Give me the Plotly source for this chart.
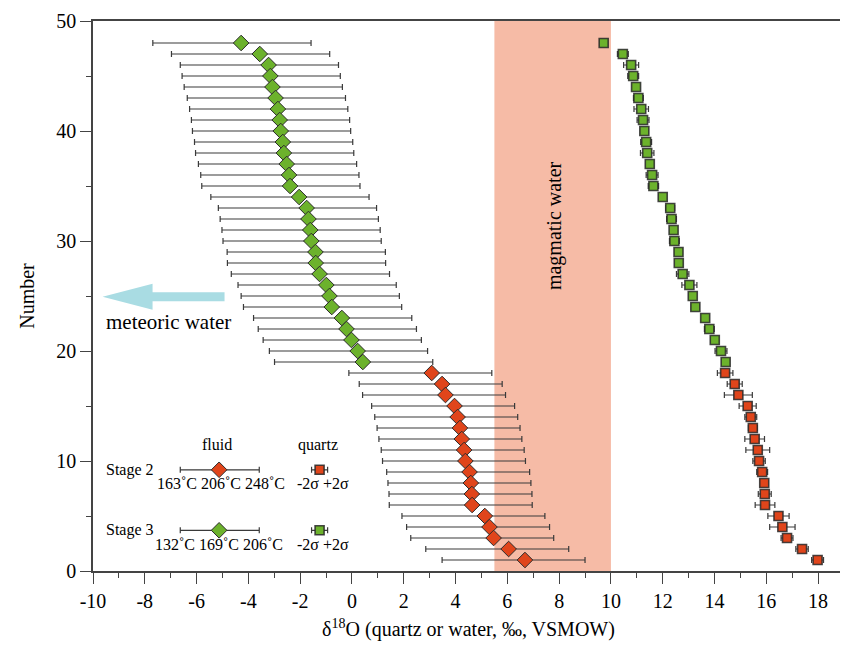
import plotly.graph_objects as go

# ---------------- data ----------------
stage3_number = [48, 47, 46, 45, 44, 43, 42, 41, 40, 39, 38, 37, 36, 35, 34,
                 33, 32, 31, 30, 29, 28, 27, 26, 25, 24, 23, 22, 21, 20, 19]
stage3_fluid = [-4.28, -3.56, -3.22, -3.15, -3.07, -2.95, -2.86, -2.79, -2.75, -2.67,
                -2.63, -2.52, -2.43, -2.39, -2.04, -1.75, -1.68, -1.61, -1.57, -1.41,
                -1.40, -1.25, -0.99, -0.87, -0.78, -0.39, -0.21, -0.02, 0.22, 0.42]
stage3_quartz = [9.72, 10.46, 10.78, 10.86, 10.97, 11.06, 11.17, 11.24, 11.29, 11.36,
                 11.40, 11.50, 11.59, 11.64, 12.00, 12.29, 12.34, 12.42, 12.45, 12.61,
                 12.62, 12.77, 13.03, 13.16, 13.26, 13.64, 13.80, 14.01, 14.25, 14.43]
stage3_quartz_2s = [0.10, 0.21, 0.29, 0.21, 0.12, 0.19, 0.28, 0.23, 0.13, 0.21,
                    0.26, 0.10, 0.23, 0.20, 0.10, 0.17, 0.19, 0.10, 0.19, 0.15,
                    0.10, 0.24, 0.29, 0.12, 0.15, 0.13, 0.19, 0.13, 0.23, 0.13]
stage3_fluid_low = 3.41   # 132 C end (minus)
stage3_fluid_high = 2.70  # 206 C end (plus)

stage2_number = [18, 17, 16, 15, 14, 13, 12, 11, 10, 9, 8, 7, 6, 5, 4, 3, 2, 1]
stage2_fluid = [3.08, 3.48, 3.61, 3.96, 4.08, 4.17, 4.24, 4.33, 4.38, 4.54,
                4.59, 4.63, 4.64, 5.13, 5.31, 5.47, 6.05, 6.68]
stage2_quartz = [14.41, 14.78, 14.92, 15.28, 15.40, 15.48, 15.55, 15.67, 15.72, 15.84,
                 15.92, 15.94, 15.95, 16.47, 16.62, 16.80, 17.38, 17.98]
stage2_quartz_2s = [0.30, 0.29, 0.54, 0.33, 0.23, 0.17, 0.38, 0.46, 0.24, 0.21,
                    0.10, 0.25, 0.38, 0.41, 0.49, 0.23, 0.24, 0.23]
stage2_fluid_low = 3.20   # 163 C end (minus)
stage2_fluid_high = 2.32  # 248 C end (plus)

magmatic_range = [5.5, 10.0]

# legend key glyphs
key_fluid_x = [-5.13]
key_quartz_x = [-1.25]
key_stage2_y = [9.2]
key_stage3_y = [3.7]
key_fluid_minus = [1.50]
key_fluid_plus = [1.55]
key_quartz_err = [0.31]

# meteoric arrow (tail x, head-base x, tip x, y)
arrow_x = [-4.92, -7.70, -9.63]
arrow_y = 24.93
arrow_shaft_half = 0.41
arrow_head_half = 1.18

x_ticks = list(range(-10, 20, 2))
y_ticks = [0, 10, 20, 30, 40, 50]

# ---------------- style ----------------
FONT = "Liberation Serif"
GREEN = "#6cb22c"
RED = "#e0451b"
EDGE = "#2b2b2b"
ERR = "#3a3a3a"

fig = go.Figure()

fig.add_shape(type="rect", xref="x", yref="paper", x0=magmatic_range[0], x1=magmatic_range[1],
              y0=0, y1=1, fillcolor="#f6bba6", line_width=0, layer="below")

path = (f"M {arrow_x[0]} {arrow_y + arrow_shaft_half} L {arrow_x[1]} {arrow_y + arrow_shaft_half} "
        f"L {arrow_x[1]} {arrow_y + arrow_head_half} L {arrow_x[2]} {arrow_y} "
        f"L {arrow_x[1]} {arrow_y - arrow_head_half} L {arrow_x[1]} {arrow_y - arrow_shaft_half} "
        f"L {arrow_x[0]} {arrow_y - arrow_shaft_half} Z")
fig.add_shape(type="path", path=path, xref="x", yref="y", fillcolor="#a9dce3", line_width=0)


def diamond_trace(x, y, color, minus, plus, capw=3):
    return go.Scatter(
        x=x, y=y, mode="markers", showlegend=False, hoverinfo="skip",
        marker=dict(symbol="diamond", size=12, color=color, line=dict(color=EDGE, width=1)),
        error_x=dict(type="data", symmetric=False, array=plus, arrayminus=minus,
                     color=ERR, thickness=1.2, width=capw),
    )


def square_trace(x, y, color, err):
    return go.Scatter(
        x=x, y=y, mode="markers", showlegend=False, hoverinfo="skip",
        marker=dict(symbol="square", size=9, color=color,
                    line=dict(color="rgba(40,40,40,0.85)", width=1.6)),
        error_x=dict(type="data", array=err, color=ERR, thickness=1.2, width=3),
    )


fig.add_trace(diamond_trace(stage3_fluid, stage3_number, GREEN,
                            [stage3_fluid_low] * len(stage3_fluid), [stage3_fluid_high] * len(stage3_fluid)))
fig.add_trace(diamond_trace(stage2_fluid, stage2_number, RED,
                            [stage2_fluid_low] * len(stage2_fluid), [stage2_fluid_high] * len(stage2_fluid)))
fig.add_trace(square_trace(stage3_quartz, stage3_number, GREEN, stage3_quartz_2s))
fig.add_trace(square_trace(stage2_quartz, stage2_number, RED, stage2_quartz_2s))

# key glyphs
fig.add_trace(diamond_trace(key_fluid_x, key_stage2_y, RED, key_fluid_minus, key_fluid_plus))
fig.add_trace(diamond_trace(key_fluid_x, key_stage3_y, GREEN, key_fluid_minus, key_fluid_plus))
fig.add_trace(square_trace(key_quartz_x, key_stage2_y, RED, key_quartz_err))
fig.add_trace(square_trace(key_quartz_x, key_stage3_y, GREEN, key_quartz_err))

ann = []


def text(x, y, s, size=16, angle=0):
    ann.append(dict(x=x, y=y, xref="x", yref="y", text=s, showarrow=False, textangle=angle,
                    font=dict(family=FONT, size=size, color="black"), xanchor="center", yanchor="middle"))


text(-5.2, 11.5, "fluid")
text(-1.33, 11.5, "quartz")
text(-8.56, 9.2, "Stage 2")
text(-8.56, 3.7, "Stage 3")
text(-5.05, 8.0, "163˚C 206˚C 248˚C", size=16)
text(-5.12, 2.4, "132˚C 169˚C 206˚C", size=16)
text(-1.1, 8.0, "-2σ +2σ")
text(-1.1, 2.4, "-2σ +2σ")
text(-7.1, 22.6, "meteoric water", size=21)
text(7.82, 31.4, "magmatic water", size=20, angle=-90)

fig.update_layout(
    annotations=ann,
    width=840, height=633,
    margin=dict(l=85, r=2, t=11, b=70),
    plot_bgcolor="white", paper_bgcolor="white",
    font=dict(family=FONT, size=20, color="black"),
)

axis_common = dict(showgrid=False, zeroline=False, showline=True, linecolor="#444", linewidth=1.5,
                   mirror=True, ticks="outside", ticklen=11, tickcolor="#444", tickwidth=1.2,
                   tickfont=dict(family=FONT, size=20, color="black"))
fig.update_xaxes(range=[-10, 19], tickvals=x_ticks, ticktext=[str(v) for v in x_ticks],
                 minor=dict(dtick=1, ticks="outside", ticklen=5, tickcolor="#444"),
                 title=dict(text="δ<sup>18</sup>O (quartz or water, ‰, VSMOW)",
                            font=dict(family=FONT, size=20), standoff=12),
                 **axis_common)
fig.update_yaxes(range=[0, 50], tickvals=y_ticks,
                 minor=dict(dtick=5, ticks="outside", ticklen=5, tickcolor="#444"),
                 title=dict(text="Number", font=dict(family=FONT, size=20), standoff=16),
                 **axis_common)

fig.write_html("out.html")
